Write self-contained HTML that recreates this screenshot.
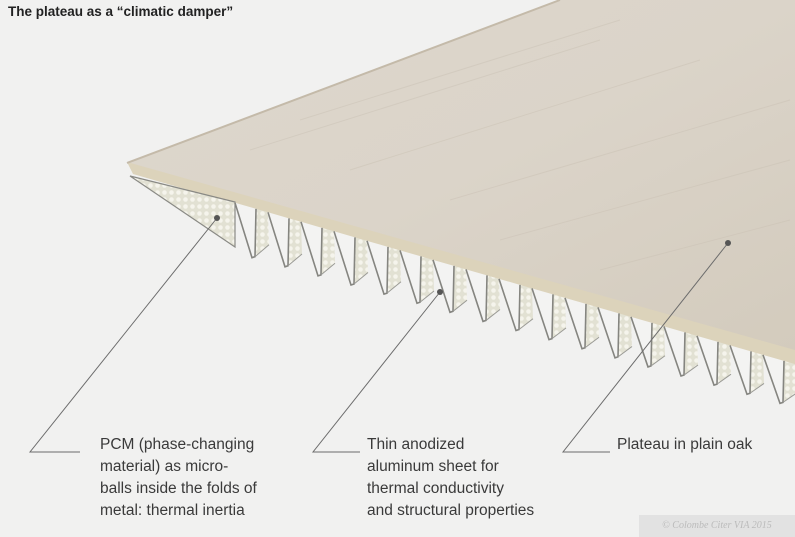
<!DOCTYPE html>
<html><head><meta charset="utf-8"><style>
html,body{margin:0;padding:0;background:#f1f1f0;}
body{width:795px;height:537px;position:relative;overflow:hidden;font-family:"Liberation Sans",sans-serif;}
.t{position:absolute;color:#3a3a3a;font-size:15.5px;line-height:22px;}
</style></head><body>
<svg id="s" width="795" height="537" style="position:absolute;left:0;top:0">
<defs>
<linearGradient id="w" x1="0" y1="0" x2="1" y2="1">
<stop offset="0" stop-color="#ddd7cd"/><stop offset="0.5" stop-color="#dbd4c9"/><stop offset="1" stop-color="#d3cbbd"/>
</linearGradient>
<pattern id="f" width="7" height="7" patternUnits="userSpaceOnUse">
<rect width="7" height="7" fill="#e2e1d3"/><circle cx="3.5" cy="3.5" r="2.3" fill="#f5f4ec"/>
</pattern>
</defs>
<polygon points="127,163 560,0 795,0 795,352" fill="url(#w)"/>
<g stroke="#cbc2b5" stroke-width="1" opacity="0.5">
<line x1="250" y1="150" x2="600" y2="40"/><line x1="350" y1="170" x2="700" y2="60"/>
<line x1="450" y1="200" x2="790" y2="100"/><line x1="500" y1="240" x2="790" y2="160"/>
<line x1="600" y1="270" x2="790" y2="220"/><line x1="300" y1="120" x2="620" y2="20"/>
</g>
<polygon points="127,162 795,350 795,365 133,174" fill="#dcd3bb"/>
<polyline points="127,163 560,0" stroke="#c4baa9" stroke-width="2" fill="none"/>
<polygon points="130,176 235,247 235,202" fill="url(#f)" stroke="#8a8a85" stroke-width="1.2"/>
<g id="teeth"></g>
<g stroke="#6c6c6c" stroke-width="1" fill="none">
<polyline points="217,218 30,452 80,452"/>
<polyline points="440,292 313,452 360,452"/>
<polyline points="728,243 563,452 610,452"/>
</g>
<circle cx="217" cy="218" r="3" fill="#555"/>
<circle cx="440" cy="292" r="3" fill="#555"/>
<circle cx="728" cy="243" r="3" fill="#555"/>
</svg>
<script>
var g=document.getElementById('teeth'),h='';
function yb(x){return 174+(x-135)*0.288;}
for(var i=0;i<18;i++){var x0=235+i*33;if(x0>800)break;var d=50-i*0.4;
var a=x0,b=x0+17,c=x0+21,e=x0+33;
h+='<polygon points="'+a+','+yb(a)+' '+(b)+','+(yb(b)+d)+' '+(b+2)+','+(yb(b)+d)+' '+c+','+yb(c)+'" fill="#f3f3f2"/>';
h+='<polygon points="'+c+','+yb(c)+' '+(b+3)+','+(yb(b)+d-1)+' '+(e+1)+','+(yb(e)+d*0.65)+' '+e+','+yb(e)+'" fill="url(#f)"/>';
h+='<polyline points="'+a+','+yb(a)+' '+(b)+','+(yb(b)+d)+' '+(b+3)+','+(yb(b)+d-1)+' '+c+','+yb(c)+'" fill="none" stroke="#858580" stroke-width="1.6"/>';
h+='<line x1="'+(b+3)+'" y1="'+(yb(b)+d-1)+'" x2="'+(e+1)+'" y2="'+(yb(e)+d*0.65)+'" stroke="#9a9a95" stroke-width="1"/>';}
g.innerHTML=h;
</script>
<div style="position:absolute;left:8px;top:4px;font-size:13.5px;font-weight:bold;color:#222">The plateau as a “climatic damper”</div>
<div class="t" style="left:100px;top:434px">PCM (phase-changing<br>material) as micro-<br>balls inside the folds of<br>metal: thermal inertia</div>
<div class="t" style="left:367px;top:434px">Thin anodized<br>aluminum sheet for<br>thermal conductivity<br>and structural properties</div>
<div class="t" style="left:617px;top:434px">Plateau in plain oak</div>
<div style="position:absolute;right:0;bottom:0;width:156px;height:22px;background:#e2e2e2;color:#bbb;font-size:10px;line-height:22px;text-align:center;font-family:'Liberation Serif',serif;font-style:italic">© Colombe Citer VIA 2015</div>
</body></html>
